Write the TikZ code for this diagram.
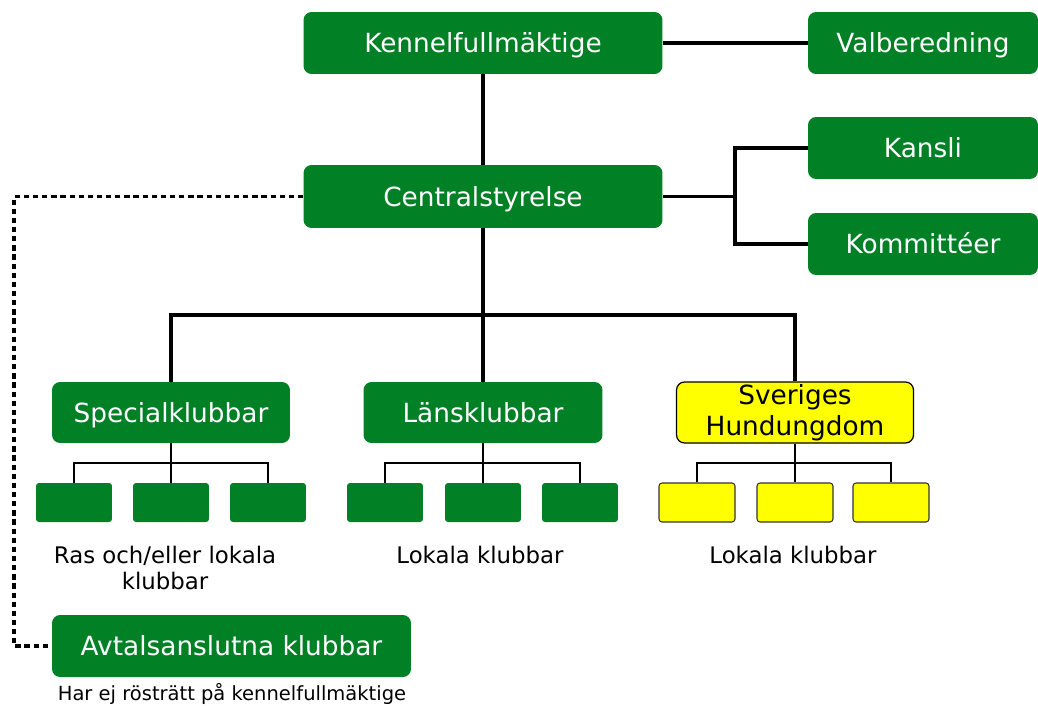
\documentclass[tikz,border=0pt]{standalone}
\usepackage{fontspec}
\setmainfont{DejaVu Sans}
\definecolor{kgreen}{RGB}{2,128,38}
\definecolor{kyellow}{RGB}{255,255,0}
\tikzset{
  gbox/.style={fill=kgreen, draw=none, rounded corners=0.16cm, text=white, font=\fontsize{15}{17.5}\selectfont, inner sep=0pt, align=center, text height=12pt, text depth=0.8pt},
  ybox/.style={fill=kyellow, draw=black, line width=0.7pt, rounded corners=0.16cm, text=black, font=\fontsize{15}{17.5}\selectfont, inner sep=0pt, align=center},
  sgbox/.style={fill=kgreen, draw=none, rounded corners=0.06cm, minimum width=1.52cm, minimum height=0.78cm, inner sep=0pt},
  sybox/.style={fill=kyellow, draw=black!80, line width=0.6pt, rounded corners=0.06cm, minimum width=1.52cm, minimum height=0.78cm, inner sep=0pt},
  thickline/.style={line width=2.2pt, black},
  thinline/.style={line width=1.1pt, black},
  dashline/.style={line width=1.8pt, black, dash pattern=on 3pt off 2.2pt},
  lbl/.style={font=\fontsize{13}{14.5}\selectfont, align=center, text=black, inner sep=0pt},
  slbl/.style={font=\fontsize{11.1}{12}\selectfont, text=black, inner sep=0pt}
}
\begin{document}
\begin{tikzpicture}[x=0.02cm, y=-0.02cm]
\useasboundingbox (0,0) rectangle (1038,706);
% main boxes
\node[gbox, minimum width=7.18cm, minimum height=1.24cm] (kf) at (483,43) {Kennelfullmäktige};
\node[gbox, minimum width=4.6cm, minimum height=1.24cm] (val) at (923,43) {Valberedning};
\node[gbox, minimum width=4.6cm, minimum height=1.24cm] (kan) at (923,148) {Kansli};
\node[gbox, minimum width=4.6cm, minimum height=1.24cm] (kom) at (923,244) {Kommittéer};
\node[gbox, minimum width=7.18cm, minimum height=1.26cm] (cs) at (483,196.5) {Centralstyrelse};
\node[gbox, minimum width=4.76cm, minimum height=1.22cm] (spec) at (171,412.5) {Specialklubbar};
\node[gbox, minimum width=4.78cm, minimum height=1.22cm] (lans) at (483,412.5) {Länsklubbar};
\node[ybox, minimum width=4.74cm, minimum height=1.22cm] (svh) at (795,412.5) {Sveriges\\Hundungdom};
\node[gbox, minimum width=7.18cm, minimum height=1.24cm] (avt) at (231.5,646) {Avtalsanslutna klubbar};
% small boxes
\node[sgbox] (s1) at (74,502.5) {};
\node[sgbox] (s2) at (171,502.5) {};
\node[sgbox] (s3) at (268,502.5) {};
\node[sgbox] (l1) at (385,502.5) {};
\node[sgbox] (l2) at (483,502.5) {};
\node[sgbox] (l3) at (580,502.5) {};
\node[sybox] (y1) at (697,502.5) {};
\node[sybox] (y2) at (795,502.5) {};
\node[sybox] (y3) at (891,502.5) {};
% labels
\node[lbl] (t1) at (165,568) {Ras och/eller lokala\\klubbar};
\node[lbl] (t2) at (480,555) {Lokala klubbar};
\node[lbl] (t3) at (793,555) {Lokala klubbar};
\node[slbl] (t4) at (232,694) {Har ej rösträtt på kennelfullmäktige};
% coordinates
\coordinate (jcs) at (735,196.5);
\coordinate (hbar) at (483,315);
\coordinate (sj) at (171,463);
\coordinate (lj) at (483,463);
\coordinate (yj) at (795,463);
\coordinate (dl) at (14,400);
% thick connectors
\draw[thickline] (kf.south) -- (cs.north);
\draw[thickline] (kf.east) -- (val.west);
\draw[thickline] (cs.east) -- (jcs);
\draw[thickline] (kan.west) -| (jcs) |- (kom.west);
\draw[thickline] (cs.south) -- (lans.north);
\draw[thickline] (spec.north) |- (hbar) -| (svh.north);
% thin connectors
\draw[thinline] (spec.south) -- (s2.north);
\draw[thinline] (s1.north) |- (sj) -| (s3.north);
\draw[thinline] (lans.south) -- (l2.north);
\draw[thinline] (l1.north) |- (lj) -| (l3.north);
\draw[thinline] (svh.south) -- (y2.north);
\draw[thinline] (y1.north) |- (yj) -| (y3.north);
% dashed
\draw[dashline] (cs.west) -| (dl) |- (avt.west);
\end{tikzpicture}
\end{document}
